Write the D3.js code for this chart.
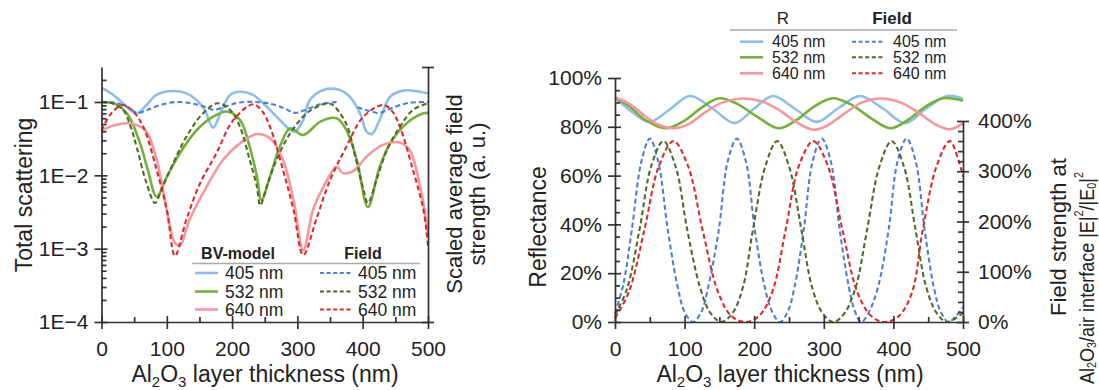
<!DOCTYPE html>
<html><head><meta charset="utf-8">
<script src="https://cdn.jsdelivr.net/npm/d3@7"></script>
<style>
body{margin:0;background:#fff;}
svg text{font-family:"Liberation Sans",Arial,Helvetica,sans-serif;fill:#222;}
</style></head><body>
<svg id="c" width="1099" height="390"></svg>
<script>
// ---------- DATA ----------
const wavelengths = ["405 nm","532 nm","640 nm"];
const xTicks = [0,100,200,300,400,500];
const logMajors = [1e-1,1e-2,1e-3,1e-4];
const rTicks = [0,20,40,60,80,100];
const fTicks = [0,100,200,300,400];

// Left panel: total scattering (BV-model) [thickness nm, value]
const bv405 = [[0,0.155],[10,0.14],[28,0.106],[44,0.078],[54,0.07],[69,0.091],[84,0.125],[110,0.141],[130,0.131],[146,0.106],[158,0.078],[171,0.0446],[184,0.078],[197,0.125],[212,0.138],[232,0.125],[253,0.086],[273,0.057],[289,0.0415],[296,0.0394],[309,0.057],[319,0.106],[340,0.146],[365,0.146],[380,0.118],[396,0.07],[406,0.0394],[414,0.0366],[426,0.057],[442,0.118],[462,0.143],[488,0.138],[500,0.131]];
const bv532 = [[0,0.1],[20,0.095],[40,0.068],[59,0.0275],[71,0.0118],[84.5,0.0051],[100,0.0095],[120,0.02],[146,0.0415],[171,0.063],[192,0.074],[212,0.057],[227,0.0245],[238,0.0096],[245,0.0046],[258,0.0096],[273,0.0245],[289,0.0438],[309,0.0355],[335,0.054],[360,0.06],[375,0.0415],[391,0.0162],[408,0.0037],[426,0.013],[442,0.0273],[467,0.051],[493,0.07],[500,0.071]];
const bv640 = [[0,0.041],[20,0.048],[38,0.0513],[55,0.048],[69,0.0394],[84.5,0.0162],[95,0.0057],[105,0.002],[112.5,0.0012],[120,0.0011],[135,0.0025],[161,0.007],[186,0.0162],[212,0.0273],[238,0.0366],[258,0.032],[278,0.0162],[294,0.0046],[309,0.00095],[324,0.0034],[340,0.007],[360,0.013],[370,0.0107],[386,0.0115],[406,0.018],[431,0.026],[457,0.028],[472,0.022],[488,0.007],[500,0.0016]];
// Left panel: scaled average field
const fd405 = [[0,0.1],[20,0.098],[40,0.085],[55,0.071],[70,0.078],[90,0.091],[115,0.1],[140,0.095],[160,0.085],[172,0.078],[190,0.087],[210,0.098],[235,0.1],[260,0.094],[280,0.082],[296,0.071],[315,0.08],[335,0.093],[360,0.1],[375,null],[392,0.085],[410,0.075],[426,0.071],[445,0.083],[470,0.097],[500,0.1]];
const fd532 = [[0,0.1],[15,0.097],[33,0.078],[45,0.045],[54,0.024],[69,0.0078],[82,0.0042],[92,0.0065],[105,0.0118],[130,0.0336],[156,0.071],[178,0.096],[197,0.078],[212,0.046],[227,0.0162],[238,0.007],[243,0.0039],[253,0.007],[268,0.0162],[289,0.0375],[314,0.07],[335,0.09],[347,0.096],[355,0.09],[375,0.05],[390,0.016],[400,0.007],[408,0.0042],[421,0.0086],[437,0.022],[457,0.046],[477,0.078],[500,0.096]];
const fd640 = [[0,0.041],[15,0.07],[33,0.091],[48,0.075],[64,0.046],[84.5,0.0118],[100,0.0034],[112.5,0.0008],[130,0.0025],[151,0.0078],[176,0.02],[202,0.057],[232.5,0.093],[246,0.075],[258,0.046],[278,0.0118],[294,0.0034],[309,0.00082],[330,0.0027],[350,0.0086],[375,0.0245],[401,0.063],[431.5,0.091],[445,0.075],[457,0.046],[477,0.0118],[493,0.0034],[500,0.0011]];

// Right panel: reflectance (%)
const r405 = [[0,92],[25,86],[50,82],[78,87],[108,92.6],[140,87.5],[172,81.5],[200,87.5],[227,92.6],[258,87.5],[290,82],[320,87.5],[352,92.6],[385,87.5],[417,81.5],[447,87.5],[477,92.6],[500,91.5]];
const r532 = [[0,92],[20,88.5],[45,82.5],[73,79.4],[100,82.5],[125,88],[150,91.7],[175,89.5],[205,84],[235,79.4],[262,83],[287,88.5],[313,91.7],[340,89],[368,83.5],[396,79.4],[422,83],[447,88.5],[472,91.7],[500,90.7]];
const r640 = [[0,92],[20,89.5],[45,84],[65,80.5],[84,79.4],[105,81],[130,86],[155,90],[183,91.6],[210,90.5],[235,87],[260,82],[285,78.8],[305,80.5],[330,85.5],[355,90],[383,91.6],[410,90],[435,86],[460,81],[481,79],[500,81.4]];
// Right panel: field strength at interface (%)
const f405 = [[0,17],[12,75],[24,182],[38,320],[50,365],[62,320],[76,182],[90,70],[100,20],[112,0],[124,20],[134,70],[149,182],[162,320],[175,365],[188,320],[201,182],[215,70],[226,20],[237,0],[248,20],[258,70],[271,182],[284,320],[297,365],[310,320],[323,182],[336,70],[345,20],[354,0],[365,20],[378,70],[393,182],[406,320],[419,365],[432,320],[445,182],[458,70],[468,20],[479,0],[490,12],[500,30]];
const f532 = [[0,14],[17,65],[35,182],[52,310],[69.5,360],[87,310],[104,182],[122,70],[137,18],[153,0],[169,18],[184,70],[198,182],[216,310],[233,360],[250,310],[268,182],[283,70],[298,18],[314,0],[330,18],[346,70],[362,182],[380,310],[397.5,360],[415,310],[432,182],[447,70],[462,18],[476.5,0],[490,8],[500,18]];
const f640 = [[0,8],[20,60],[42,182],[63,310],[84,360],[105,310],[126,182],[148,60],[167,12],[187,0],[207,12],[226,60],[245,182],[264,310],[285,360],[306,310],[327,182],[348,60],[368,12],[388,0],[408,12],[427,60],[442,182],[462,310],[481,360],[494,320],[500,289]];

// ---------- STYLE ----------
const solidCol = ["#8ebde9","#74b03c","#f6979d"];
const dashCol = ["#4c80d6","#4f6b2a","#e0282a"];
const axCol = "#333";
const FONT = '"Liberation Sans",Arial,Helvetica,sans-serif';

const svg = d3.select("#c");

function styleAxis(g){
  g.attr("color",axCol).attr("font-family",FONT).attr("font-size",21);
  g.selectAll("path.domain").attr("stroke-width",1.7);
  g.selectAll("line").attr("stroke-width",1.7);
}
function chem(sel, parts, small){
  const off = {n:0, sub:5, sup:-8};
  parts.forEach(([t,k],i)=>{
    const ts = sel.append("tspan").text(t);
    const prev = i>0 ? parts[i-1][1] : "n";
    const dy = off[k] - off[prev];
    if(dy) ts.attr("dy",dy);
    if(k!=="n") ts.attr("font-size",small);
  });
}

// ---------- LEFT PANEL ----------
const xL = d3.scaleLinear([0,500],[101.5,428]);
const yL = d3.scaleLog([1e-4,0.3],[322,67]);

const lineL = d3.line().defined(d=>d[1]!=null).x(d=>xL(d[0])).y(d=>yL(d[1])).curve(d3.curveCatmullRom);
[bv405,bv532,bv640].forEach((s,i)=>{
  svg.append("path").attr("d",lineL(s)).attr("fill","none").attr("stroke",solidCol[i]).attr("stroke-width",2.6);
});
[fd405,fd532,fd640].forEach((s,i)=>{
  svg.append("path").attr("d",lineL(s)).attr("fill","none").attr("stroke",dashCol[i]).attr("stroke-width",2.1).attr("stroke-dasharray","5,3");
});

// left y axis
const minorsL = [];
[-4,-3,-2,-1].forEach(e=>{for(let k=2;k<=9;k++){const v=k*Math.pow(10,e); if(v<=0.3) minorsL.push(v);}});
const gYL = svg.append("g").attr("transform",`translate(${xL(0)},0)`)
  .call(d3.axisLeft(yL).tickValues(logMajors).tickSize(7).tickSizeOuter(0).tickPadding(6)
    .tickFormat(d=>"1E\u2212"+Math.round(-Math.log10(d))));
styleAxis(gYL);
gYL.selectAll(".tick line").attr("x1",6);
const gYLm = svg.append("g").attr("transform",`translate(${xL(0)},0)`)
  .call(d3.axisLeft(yL).tickValues(minorsL).tickSize(-5).tickFormat(""));
gYLm.select(".domain").remove(); styleAxis(gYLm);

// left x axis
const gXL = svg.append("g").attr("transform",`translate(0,${yL(1e-4)})`)
  .call(d3.axisBottom(xL).tickValues(xTicks).tickSize(7).tickSizeOuter(0).tickPadding(12).tickFormat(d3.format("d")));
styleAxis(gXL); gXL.selectAll(".tick line").attr("y1",-6);
const gXLm = svg.append("g").attr("transform",`translate(0,${yL(1e-4)})`)
  .call(d3.axisBottom(xL).tickValues([50,150,250,350,450]).tickSize(-5).tickFormat(""));
gXLm.select(".domain").remove(); styleAxis(gXLm);

// left panel right axis (no labels)
const gRL = svg.append("g").attr("transform",`translate(${xL(500)},0)`)
  .call(d3.axisRight(yL).tickValues([1e-4,0.3]).tickSize(6).tickSizeOuter(0).tickFormat(""));
styleAxis(gRL); gRL.selectAll(".tick line").attr("x1",-6);

// titles left panel
svg.append("text").attr("transform","translate(24,195) rotate(-90)").attr("text-anchor","middle")
  .attr("dominant-baseline","central").attr("font-size",23).text("Total scattering");
svg.append("text").attr("transform","translate(454,194) rotate(-90)").attr("text-anchor","middle")
  .attr("dominant-baseline","central").attr("font-size",22).text("Scaled average field");
svg.append("text").attr("transform","translate(477,194) rotate(-90)").attr("text-anchor","middle")
  .attr("dominant-baseline","central").attr("font-size",22).text("strength (a. u.)");
chem(svg.append("text").attr("x",265).attr("y",382).attr("text-anchor","middle").attr("font-size",23),
  [["Al","n"],["2","sub"],["O","n"],["3","sub"],[" layer thickness (nm)","n"]],15);

// legends
function legend(cfg){
  svg.append("text").attr("x",cfg.h1x).attr("y",cfg.hy).attr("text-anchor","middle").attr("font-size",cfg.hfs)
    .attr("font-weight",cfg.h1w).text(cfg.h1);
  svg.append("text").attr("x",cfg.h2x).attr("y",cfg.hy).attr("text-anchor","middle").attr("font-size",cfg.hfs)
    .attr("font-weight","bold").text(cfg.h2);
  svg.append("line").attr("x1",cfg.lx1).attr("x2",cfg.lx2).attr("y1",cfg.ly).attr("y2",cfg.ly).attr("stroke","#aaa").attr("stroke-width",1.5);
  wavelengths.forEach((w,i)=>{
    const y = cfg.rows[i];
    svg.append("line").attr("x1",cfg.s1[0]).attr("x2",cfg.s1[1]).attr("y1",y).attr("y2",y).attr("stroke",solidCol[i]).attr("stroke-width",2.6);
    svg.append("text").attr("x",cfg.t1).attr("y",y+cfg.fs*0.36).attr("font-size",cfg.fs).text(w);
    svg.append("line").attr("x1",cfg.s2[0]).attr("x2",cfg.s2[1]).attr("y1",y).attr("y2",y).attr("stroke",dashCol[i]).attr("stroke-width",2.1).attr("stroke-dasharray","4,2.6");
    svg.append("text").attr("x",cfg.t2).attr("y",y+cfg.fs*0.36).attr("font-size",cfg.fs).text(w);
  });
}
legend({h1:"BV-model",h2:"Field",h1w:"bold",h1x:238,h2x:363,hy:259,hfs:16,lx1:192,lx2:420,ly:263.5,
  rows:[273,291.5,309.5],s1:[195,218],t1:225,s2:[320,353],t2:358,fs:17.5});

// ---------- RIGHT PANEL ----------
const xR = d3.scaleLinear([0,500],[615,963]);
const yR = d3.scaleLinear([0,100],[322,78]);
const yF = d3.scaleLinear([0,400],[322,121]);

const lineR = d3.line().x(d=>xR(d[0])).y(d=>yR(d[1])).curve(d3.curveCatmullRom);
const lineF = d3.line().x(d=>xR(d[0])).y(d=>yF(d[1])).curve(d3.curveCatmullRom);
[f405,f532,f640].forEach((s,i)=>{
  svg.append("path").attr("d",lineF(s)).attr("fill","none").attr("stroke",dashCol[i]).attr("stroke-width",2.1).attr("stroke-dasharray","5,3");
});
[r405,r532,r640].forEach((s,i)=>{
  svg.append("path").attr("d",lineR(s)).attr("fill","none").attr("stroke",solidCol[i]).attr("stroke-width",2.6);
});

const gYR = svg.append("g").attr("transform",`translate(${xR(0)},0)`)
  .call(d3.axisLeft(yR).tickValues(rTicks).tickSize(7).tickSizeOuter(0).tickPadding(6).tickFormat(d=>d+"%"));
styleAxis(gYR); gYR.selectAll(".tick line").attr("x1",6);
const gYRm = svg.append("g").attr("transform",`translate(${xR(0)},0)`)
  .call(d3.axisLeft(yR).tickValues(d3.range(5,100,5).filter(v=>v%20)).tickSize(-5).tickFormat(""));
gYRm.select(".domain").remove(); styleAxis(gYRm);

const gXR = svg.append("g").attr("transform",`translate(0,${yR(0)})`)
  .call(d3.axisBottom(xR).tickValues(xTicks).tickSize(7).tickSizeOuter(0).tickPadding(12).tickFormat(d3.format("d")));
styleAxis(gXR); gXR.selectAll(".tick line").attr("y1",-6);
const gXRm = svg.append("g").attr("transform",`translate(0,${yR(0)})`)
  .call(d3.axisBottom(xR).tickValues([50,150,250,350,450]).tickSize(-5).tickFormat(""));
gXRm.select(".domain").remove(); styleAxis(gXRm);

const gFR = svg.append("g").attr("transform",`translate(${xR(500)},0)`)
  .call(d3.axisRight(yF).tickValues(fTicks).tickSize(6).tickSizeOuter(0).tickPadding(9).tickFormat(d=>d+"%"));
styleAxis(gFR); gFR.selectAll(".tick line").attr("x1",-6);
const gFRm = svg.append("g").attr("transform",`translate(${xR(500)},0)`)
  .call(d3.axisRight(yF).tickValues(d3.range(20,400,20).filter(v=>v%100)).tickSize(-5).tickFormat(""));
gFRm.select(".domain").remove(); styleAxis(gFRm);

svg.append("text").attr("transform","translate(538,227) rotate(-90)").attr("text-anchor","middle")
  .attr("dominant-baseline","central").attr("font-size",23).text("Reflectance");
chem(svg.append("text").attr("x",790).attr("y",382).attr("text-anchor","middle").attr("font-size",23),
  [["Al","n"],["2","sub"],["O","n"],["3","sub"],[" layer thickness (nm)","n"]],15);
svg.append("text").attr("transform","translate(1058,237) rotate(-90)").attr("text-anchor","middle")
  .attr("dominant-baseline","central").attr("font-size",22).text("Field strength at");
chem(svg.append("text").attr("transform","translate(1087,278) rotate(-90)").attr("text-anchor","middle")
  .attr("dominant-baseline","central").attr("font-size",20).attr("textLength",212).attr("lengthAdjust","spacingAndGlyphs"),
  [["Al","n"],["2","sub"],["O","n"],["3","sub"],["/air interface |E|","n"],["2","sup"],["/|E","n"],["0","sub"],["|","n"],["2","sup"]],12);

legend({h1:"R",h2:"Field",h1w:"normal",h1x:783,h2x:892,hy:24,hfs:17,lx1:730,lx2:957,ly:30,
  rows:[41.7,57.3,73.3],s1:[740,763],t1:772,s2:[852,883],t2:893,fs:16});
</script>
</body></html>
